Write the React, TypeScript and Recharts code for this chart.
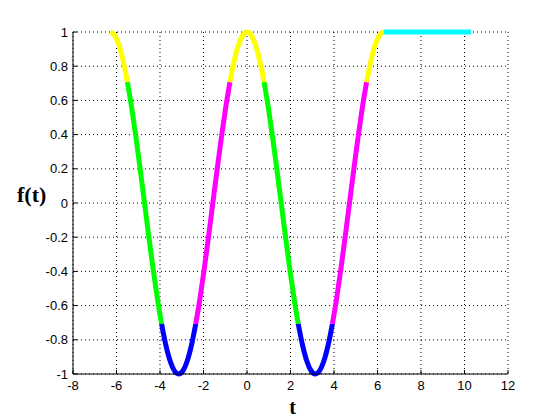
import { CartesianGrid, Line, LineChart, XAxis, YAxis } from "recharts"

// sample points of the curve
const tValues = [
  -6.283, -6.087, -5.89, -5.694, -5.498, -5.301, -5.105, -4.909, -4.712, -4.516, -4.32, -4.123, -3.927,
  -3.731, -3.534, -3.338, -3.142, -2.945, -2.749, -2.553, -2.356, -2.16, -1.963, -1.767, -1.571, -1.374,
  -1.178, -0.982, -0.785, -0.589, -0.393, -0.196, 0, 0.196, 0.393, 0.589, 0.785, 0.982, 1.178, 1.374,
  1.571, 1.767, 1.963, 2.16, 2.356, 2.553, 2.749, 2.945, 3.142, 3.338, 3.534, 3.731, 3.927, 4.123, 4.32,
  4.516, 4.712, 4.909, 5.105, 5.301, 5.498, 5.694, 5.89, 6.087, 6.283,
]
const fValues = [
  1, 0.981, 0.924, 0.831, 0.707, 0.556, 0.383, 0.195, 0, -0.195, -0.383, -0.556, -0.707,
  -0.831, -0.924, -0.981, -1, -0.981, -0.924, -0.831, -0.707, -0.556, -0.383, -0.195, 0, 0.195,
  0.383, 0.556, 0.707, 0.831, 0.924, 0.981, 1, 0.981, 0.924, 0.831, 0.707, 0.556, 0.383, 0.195,
  0, -0.195, -0.383, -0.556, -0.707, -0.831, -0.924, -0.981, -1, -0.981, -0.924, -0.831, -0.707, -0.556, -0.383,
  -0.195, 0, 0.195, 0.383, 0.556, 0.707, 0.831, 0.924, 0.981, 1,
]
// index where each coloured piece starts / ends
const segmentBreaks = [0, 4, 12, 20, 28, 36, 44, 52, 60, 64]

const flatT = [6.283, 10.3]
const flatF = [1, 1]

const xTicks = [-8, -6, -4, -2, 0, 2, 4, 6, 8, 10, 12]
const yTicks = [-1, -0.8, -0.6, -0.4, -0.2, 0, 0.2, 0.4, 0.6, 0.8, 1]

const segmentColors = [
  "#ffff00", "#00ff00", "#0000ff", "#ff00ff",
  "#ffff00", "#00ff00", "#0000ff", "#ff00ff", "#ffff00",
]

const points = tValues.map((t, i) => ({ t, f: fValues[i] }))
const segments = segmentBreaks.slice(0, -1).map((start, i) => points.slice(start, segmentBreaks[i + 1] + 1))
const flat = flatT.map((t, i) => ({ t, f: flatF[i] }))

const tickStyle = { fill: "#000", fontSize: 13, fontFamily: "Liberation Sans, Arial, sans-serif" }
const labelFont = { fill: "#000", fontWeight: "bold", fontFamily: "Liberation Serif, serif" }

export default function App() {
  return (
    <div style={{ position: "absolute", left: 0, top: 0, background: "#fff" }}>
      <LineChart width={560} height={420} margin={{ top: 32, right: 52, left: 0, bottom: 0 }}>
        <CartesianGrid stroke="#000" strokeDasharray="1 3" />
        <XAxis
          type="number"
          dataKey="t"
          domain={[-8, 12]}
          ticks={xTicks}
          height={46}
          tickSize={-4}
          tickMargin={11}
          tickLine={{ stroke: "#000" }}
          tick={tickStyle}
          axisLine={{ stroke: "#000" }}
          label={{ value: "t", position: "insideBottom", offset: 6, dx: 2, style: { ...labelFont, fontSize: 20 } }}
        />
        <YAxis
          type="number"
          dataKey="f"
          domain={[-1, 1]}
          ticks={yTicks}
          width={73}
          tickSize={-4}
          tickMargin={9}
          tickLine={{ stroke: "#000" }}
          tick={tickStyle}
          axisLine={{ stroke: "#000" }}
          label={{ value: "f(t)", position: "insideLeft", offset: 17, angle: 0, dy: -9, style: { ...labelFont, fontSize: 22 } }}
        />
        {segments.map((seg, i) => (
          <Line
            key={i}
            data={seg}
            dataKey="f"
            type="monotone"
            stroke={segmentColors[i]}
            strokeWidth={5}
            dot={false}
            isAnimationActive={false}
          />
        ))}
        <Line
          data={flat}
          dataKey="f"
          type="linear"
          stroke="#00ffff"
          strokeWidth={5}
          dot={false}
          isAnimationActive={false}
        />
      </LineChart>
    </div>
  )
}
